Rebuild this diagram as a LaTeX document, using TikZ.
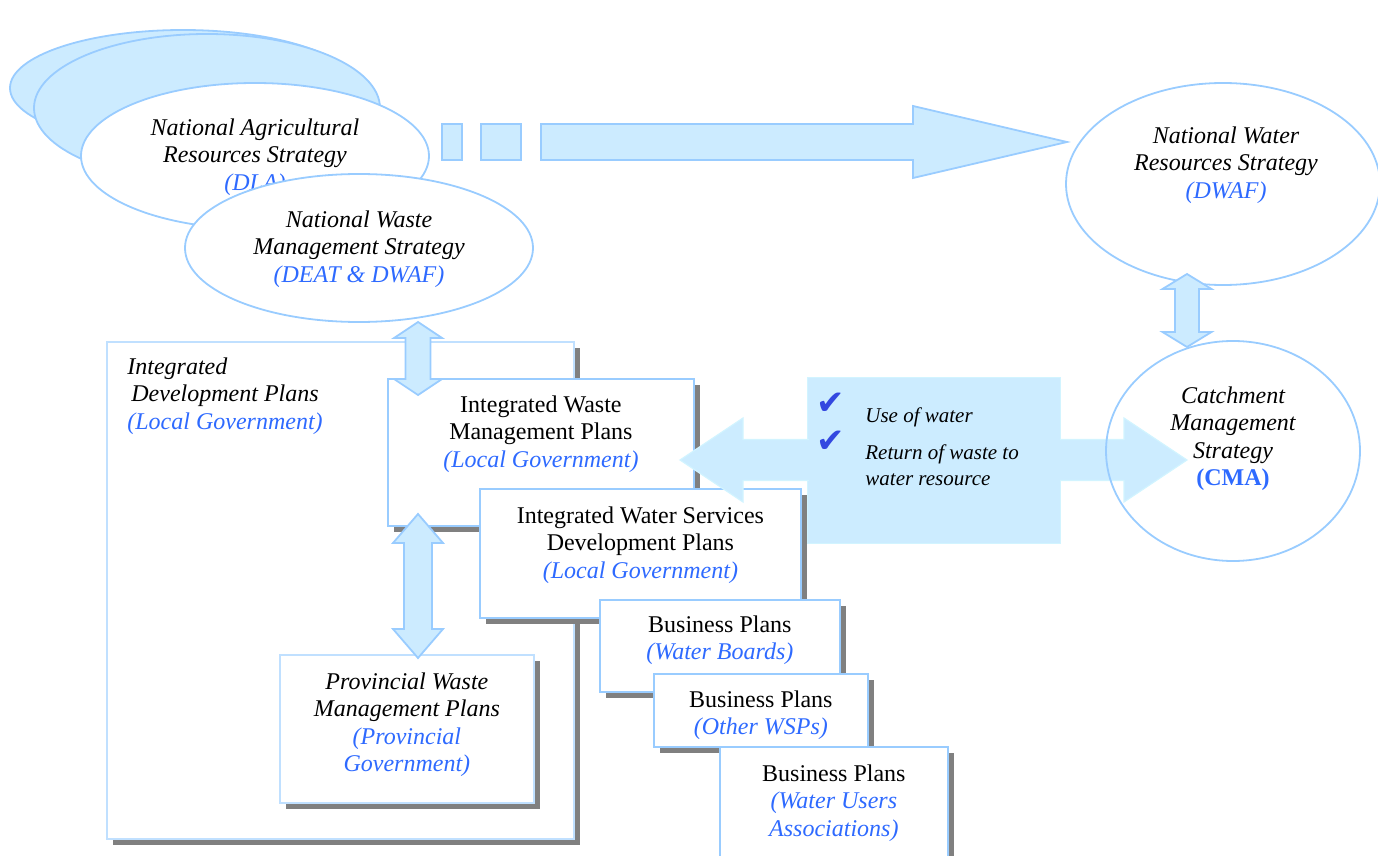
\documentclass[tikz,border=0pt]{standalone}
\usepackage{fontspec}
\setmainfont{Liberation Serif}
\newfontfamily\symbolfont{DejaVu Sans}
\usetikzlibrary{shapes.geometric,shadows,calc}

\definecolor{paleblue}{HTML}{CCEBFF}
\definecolor{edgeblue}{HTML}{99CCFF}
\definecolor{softedge}{HTML}{C0E0FF}
\definecolor{ownerblue}{HTML}{2E6AFF}
\definecolor{tickblue}{HTML}{3348E0}
\definecolor{shadowgray}{HTML}{808080}
\definecolor{flowfill}{HTML}{CCECFF}
\definecolor{flowedge}{HTML}{D2F4FF}

\newcommand\owner[1]{\textcolor{ownerblue}{\itshape #1}}

% vertical two-way block arrow: #1 upper tip, #2 lower tip,
% #3 head half width, #4 shaft half width, #5 head length
\newcommand\vtwoway[5]{%
  \path[flowarrow] (#1) -- ($(#1)+(#3,#5)$) -- ($(#1)+(#4,#5)$)
    -- ($(#2)+(#4,-#5)$) -- ($(#2)+(#3,-#5)$) -- (#2)
    -- ($(#2)+(-#3,-#5)$) -- ($(#2)+(-#4,-#5)$)
    -- ($(#1)+(-#4,#5)$) -- ($(#1)+(-#3,#5)$) -- cycle;}

% horizontal two-way block arrow: #1 left tip, #2 right tip,
% #3 head half height, #4 shaft half height, #5 head length
\newcommand\htwoway[5]{%
  \path[widearrow] (#1) -- ($(#1)+(#5,-#3)$) -- ($(#1)+(#5,-#4)$)
    -- ($(#2)+(-#5,-#4)$) -- ($(#2)+(-#5,-#3)$) -- (#2)
    -- ($(#2)+(-#5,#3)$) -- ($(#2)+(-#5,#4)$)
    -- ($(#1)+(#5,#4)$) -- ($(#1)+(#5,#3)$) -- cycle;}

\begin{document}
\begin{tikzpicture}[x=0.5pt,y=-0.5pt,
  basefont/.style={font=\fontsize{12}{13.8}\selectfont},
  caption/.style={basefont, align=center, inner sep=0pt, anchor=north},
  slanted/.style={font=\fontsize{12}{13.8}\selectfont\itshape},
  strat/.style={ellipse, draw=edgeblue, line width=0.9pt, fill=white, inner sep=0pt},
  stack/.style={strat, fill=paleblue},
  planbox/.style={rectangle, draw=edgeblue, line width=0.9pt, fill=white,
    anchor=north west, inner sep=0pt,
    drop shadow={shadow xshift=3pt, shadow yshift=-3pt, fill=shadowgray, opacity=1}},
  flowarrow/.style={fill=paleblue, draw=edgeblue, line width=0.9pt},
  widearrow/.style={fill=flowfill, draw=flowedge, line width=0.6pt},
  tick/.style={text=tickblue, inner sep=0pt, font=\symbolfont\fontsize{17}{17}\selectfont}
]
\useasboundingbox (0,0) rectangle (1378,856);

% ---- national strategies (stacked) ----
\node[stack, minimum width=173pt, minimum height=58pt] (back1) at (183,88) {};
\node[stack, minimum width=173pt, minimum height=74pt] (back2) at (207,108) {};
\node[strat, minimum width=174pt, minimum height=73pt] (nars) at (255,156) {};
\node[caption, slanted] (narsText) at ($(nars.center)+(0,-38)$)
  {National Agricultural\\Resources Strategy\\\owner{(DLA)}};
\node[strat, minimum width=174pt, minimum height=74pt] (nwms) at (359,248) {};
\node[caption, slanted] (nwmsText) at ($(nwms.center)+(0,-38)$)
  {National Waste\\Management Strategy\\\owner{(DEAT \& DWAF)}};

% ---- broken arrow towards the water resources strategy ----
\path[flowarrow] (442,124) rectangle (462,160);
\path[flowarrow] (481,124) rectangle (521,160);
\path[flowarrow] (541,124) -- (913,124) -- (913,106) -- (1067,142)
  -- (913,178) -- (913,160) -- (541,160) -- cycle;

% ---- national water resources strategy ----
\node[strat, minimum width=157pt, minimum height=101pt] (nwrs) at (1223,184) {};
\node[caption, slanted] (nwrsText) at ($(nwrs.center)+(3,-58)$)
  {National Water\\Resources Strategy\\\owner{(DWAF)}};

% ---- local and provincial plans ----
\node[planbox, draw=softedge, minimum width=233.5pt, minimum height=248.5pt] (idp) at (106,341) {};
\node[caption, slanted, anchor=north west, align=left] (idpText) at ($(idp.north west)+(21,16)$)
  {Integrated\\\hspace{2pt}Development Plans\\\owner{(Local Government)}};

\node[planbox, minimum width=153pt, minimum height=73.5pt] (iwmp) at (387,378) {};
\node[caption] (iwmpText) at ($(iwmp.north)+(0,17)$)
  {Integrated Waste\\Management Plans\\\owner{(Local Government)}};

\node[planbox, minimum width=160.5pt, minimum height=64.5pt] (iwsdp) at (479,488) {};
\node[caption] (iwsdpText) at ($(iwsdp.north)+(0,18)$)
  {Integrated Water Services\\Development Plans\\\owner{(Local Government)}};

\node[planbox, minimum width=120pt, minimum height=46pt] (bpwb) at (599,599) {};
\node[caption] (bpwbText) at ($(bpwb.north)+(0,16)$)
  {Business Plans\\\owner{(Water Boards)}};

\node[planbox, minimum width=107pt, minimum height=36.5pt] (bpwsp) at (653,673) {};
\node[caption] (bpwspText) at ($(bpwsp.north)+(0,17)$)
  {Business Plans\\\owner{(Other WSPs)}};

\node[planbox, minimum width=114pt, minimum height=62pt] (bpwua) at (719,746) {};
\node[caption] (bpwuaText) at ($(bpwua.north)+(0,18)$)
  {Business Plans\\\owner{(Water Users}\\\owner{Associations)}};

\node[planbox, draw=softedge, minimum width=127pt, minimum height=74pt] (pwmp) at (279,654) {};
\node[caption, slanted] (pwmpText) at ($(pwmp.north)+(0,18)$)
  {Provincial Waste\\Management Plans\\\owner{(Provincial}\\\owner{Government)}};

% ---- vertical links ----
\coordinate (wasteTop) at (418,322);
\coordinate (wasteBot) at (418,395);
\vtwoway{wasteTop}{wasteBot}{24}{12.5}{16}
\coordinate (provTop) at (418,514);
\coordinate (provBot) at (418,658);
\vtwoway{provTop}{provBot}{25}{14}{29}

% ---- water use / waste return link ----
\node[fill=flowfill, draw=flowedge, line width=0.6pt, anchor=north west, inner sep=0pt,
  minimum width=126.5pt, minimum height=83pt] (issues) at (807,377) {};
\coordinate (flowLeft) at (680,460);
\coordinate (flowRight) at (1187,460);
\htwoway{flowLeft}{flowRight}{42}{20.5}{63}
% the box interior stays one flat panel over the arrow shaft
\fill[flowfill] ($(issues.north west)+(1.5,1.5)$) rectangle ($(issues.south east)+(-1.5,-1.5)$);

\node[tick] (tickA) at (831,404) {✔};
\node[tick] (tickB) at (831,442) {✔};
\node[inner sep=0pt, anchor=north west, align=left,
  font=\fontsize{10.5}{13}\selectfont\itshape] (issuesText) at (865,407)
  {Use of water\\[5.5pt]Return of waste to\\water resource};

% ---- catchment management strategy ----
\node[strat, fill=none, minimum width=127pt, minimum height=110pt] (cma) at (1233,451) {};
\node[caption, slanted] (cmaText) at ($(cma.center)+(0,-65)$)
  {Catchment\\Management\\Strategy\\\textcolor{ownerblue}{\upshape\bfseries (CMA)}};

\coordinate (cmaTop) at (1187,274);
\coordinate (cmaBot) at (1187,347);
\vtwoway{cmaTop}{cmaBot}{24.5}{12}{15}
\end{tikzpicture}
\end{document}
